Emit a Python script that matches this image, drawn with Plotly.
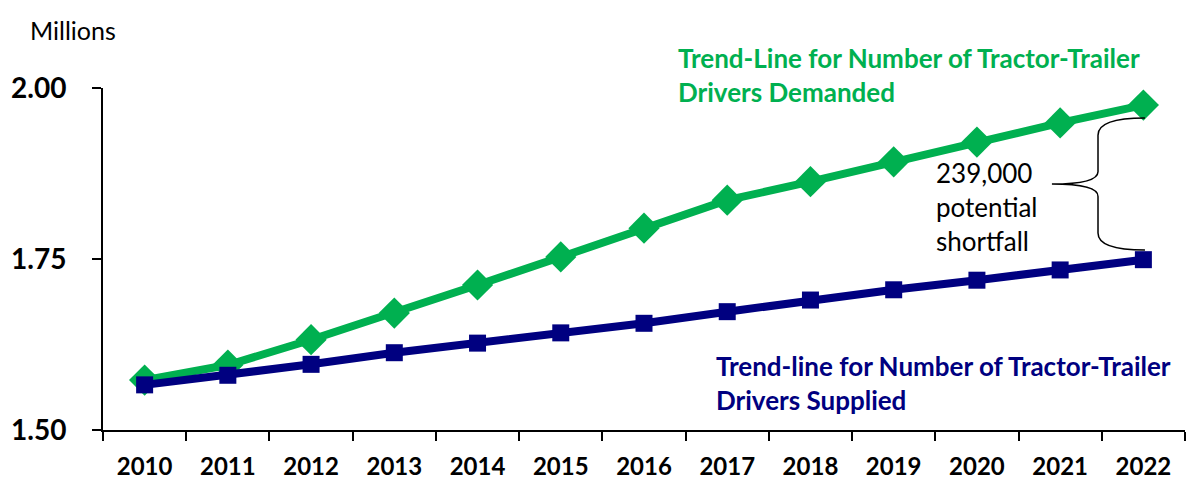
import plotly.graph_objects as go

# Data (millions of drivers)
years = ['2010', '2011', '2012', '2013', '2014', '2015', '2016',
         '2017', '2018', '2019', '2020', '2021', '2022']
demanded = [1.573, 1.595, 1.632, 1.671, 1.712, 1.753, 1.795,
            1.836, 1.863, 1.892, 1.921, 1.949, 1.975]
supplied = [1.566, 1.580, 1.596, 1.613, 1.627, 1.642, 1.656,
            1.673, 1.690, 1.705, 1.719, 1.734, 1.749]
y_ticks = [1.50, 1.75, 2.00]

green = '#00B050'
navy = '#000080'
font_family = 'Lato, Noto Sans, sans-serif'

fig = go.Figure()

fig.add_trace(go.Scatter(
    x=years, y=demanded, mode='lines+markers',
    line=dict(color=green, width=8),
    marker=dict(symbol='diamond', size=24, color=green),
    cliponaxis=False, showlegend=False
))
fig.add_trace(go.Scatter(
    x=years, y=supplied, mode='lines+markers',
    line=dict(color=navy, width=8),
    marker=dict(symbol='square', size=17, color=navy),
    cliponaxis=False, showlegend=False
))

# Curly brace showing the gap in the final year
top = demanded[-1] - 0.019
bot = supplied[-1] + 0.014
mid = (top + bot) / 2
fig.add_shape(
    type='path', xref='paper', yref='y',
    path=(f'M 0.963,{top} Q 0.9196,{top} 0.9196,{top - 0.025} '
          f'L 0.9196,{mid + 0.018} Q 0.9196,{mid} 0.877,{mid} '
          f'Q 0.9196,{mid} 0.9196,{mid - 0.018} '
          f'L 0.9196,{bot + 0.025} Q 0.9196,{bot} 0.963,{bot}'),
    line=dict(color='black', width=1.5)
)

# Labels
fig.add_annotation(
    text='Millions', xref='paper', yref='paper', x=-0.069, y=1.17,
    xanchor='left', yanchor='middle', showarrow=False,
    font=dict(size=25, color='black', family=font_family)
)
fig.add_annotation(
    text='<b>Trend-Line for Number of Tractor-Trailer<br>Drivers Demanded</b>',
    xref='paper', yref='paper', x=0.53, y=1.14, xanchor='left', yanchor='top',
    align='left', showarrow=False,
    font=dict(size=26, color=green, family=font_family)
)
fig.add_annotation(
    text='<b>Trend-line for Number of Tractor-Trailer<br>Drivers Supplied</b>',
    xref='paper', yref='paper', x=0.565, y=0.24, xanchor='left', yanchor='top',
    align='left', showarrow=False,
    font=dict(size=26, color=navy, family=font_family)
)
fig.add_annotation(
    text='239,000<br>potential<br>shortfall',
    xref='paper', yref='paper', x=0.768, y=0.805, xanchor='left', yanchor='top',
    align='left', showarrow=False,
    font=dict(size=26, color='black', family=font_family)
)

# page body has an 8px margin, so the figure is a bit smaller than the window
fig.update_layout(
    width=1192, height=494,
    margin=dict(l=95, r=15, t=80, b=72),
    plot_bgcolor='white', paper_bgcolor='white',
    font=dict(family=font_family, color='black'),
    xaxis=dict(
        type='category', range=[-0.5, 12.5], showgrid=False, showline=True,
        linecolor='black', linewidth=2, ticks='outside', tickson='boundaries',
        ticklen=9, tickwidth=2, tickcolor='black', automargin=False,
        tickfont=dict(size=24, color='black', family=font_family, weight='bold'),
        ticklabelstandoff=14
    ),
    yaxis=dict(
        range=[1.5, 2.0], showgrid=False, showline=True, linecolor='black',
        linewidth=2, ticks='outside', ticklen=9, tickwidth=2, tickcolor='black',
        tickvals=y_ticks, tickformat='.2f', zeroline=False, automargin=False,
        tickfont=dict(size=28, color='black', family=font_family, weight='bold'),
        ticklabelstandoff=20
    )
)

fig.write_html('out.html')
